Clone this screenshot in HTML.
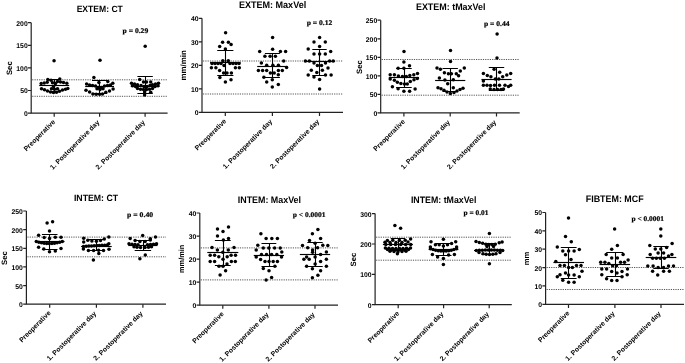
<!DOCTYPE html><html><head><meta charset="utf-8"><title>Figure</title><style>html,body{margin:0;padding:0;background:#fff;}svg{display:block;filter:blur(0.35px);text-rendering:geometricPrecision;}.t{font-family:"Liberation Sans",Arial,sans-serif;}.s{font-family:"Liberation Serif","Times New Roman",serif;}</style></head><body>
<svg width="685" height="363" viewBox="0 0 685 363">
<rect width="685" height="363" fill="#fff"/>
<g><line x1="32.2" y1="79.8" x2="167.6" y2="79.8" stroke="#555" stroke-width="1.0" stroke-dasharray="1.2 1.1"/><line x1="32.2" y1="96.3" x2="167.6" y2="96.3" stroke="#555" stroke-width="1.0" stroke-dasharray="1.2 1.1"/><path d="M31.2 22.7V113.1H167.6" fill="none" stroke="#222" stroke-width="1.2"/><path d="M28 113.1H31.2M28 90.5H31.2M28 67.9H31.2M28 45.3H31.2M28 22.7H31.2M54.2 113.1V116.7M99.6 113.1V116.7M145.1 113.1V116.7" fill="none" stroke="#222" stroke-width="1.2"/><text class="t" x="27.7" y="116.05" font-size="6.8" font-weight="bold" text-anchor="end">0</text><text class="t" x="27.7" y="93.45" font-size="6.8" font-weight="bold" text-anchor="end">50</text><text class="t" x="27.7" y="70.85" font-size="6.8" font-weight="bold" text-anchor="end">100</text><text class="t" x="27.7" y="48.25" font-size="6.8" font-weight="bold" text-anchor="end">150</text><text class="t" x="27.7" y="25.65" font-size="6.8" font-weight="bold" text-anchor="end">200</text><text class="t" x="99.75" y="12" font-size="9.04" font-weight="bold" text-anchor="middle" textLength="46.23" lengthAdjust="spacingAndGlyphs">EXTEM: CT</text><text class="t" transform="translate(11.6 68.2) rotate(-90)" font-size="7.75" font-weight="bold" text-anchor="middle">Sec</text><text class="s" x="122.5" y="33.1" font-size="7.1" font-weight="bold" stroke="#000" stroke-width="0.2" textLength="25.7" lengthAdjust="spacingAndGlyphs">p = 0.29</text><text class="t" transform="translate(55.7 122.3) rotate(-45)" font-size="6.85" font-weight="bold" text-anchor="end">Preoperative</text><text class="t" transform="translate(99.9 122.9) rotate(-45)" font-size="6.85" font-weight="bold" text-anchor="end">1. Postoperative day</text><text class="t" transform="translate(145.4 122.9) rotate(-45)" font-size="6.85" font-weight="bold" text-anchor="end">2. Postoperative day</text><g fill="#000"><circle cx="54.06" cy="60.76" r="1.75"/><circle cx="47.8" cy="79.6" r="1.75"/><circle cx="51" cy="80.2" r="1.75"/><circle cx="59.8" cy="78.9" r="1.75"/><circle cx="41.2" cy="83.4" r="1.75"/><circle cx="44.2" cy="82.9" r="1.75"/><circle cx="47.2" cy="82.3" r="1.75"/><circle cx="57.5" cy="81.5" r="1.75"/><circle cx="60.5" cy="82" r="1.75"/><circle cx="63.5" cy="82.6" r="1.75"/><circle cx="66.8" cy="83.3" r="1.75"/><circle cx="52.5" cy="82.8" r="1.75"/><circle cx="55.5" cy="83.5" r="1.75"/><circle cx="53.5" cy="86.5" r="1.75"/><circle cx="51.5" cy="88.8" r="1.75"/><circle cx="54.5" cy="89.2" r="1.75"/><circle cx="57.5" cy="88.8" r="1.75"/><circle cx="41.5" cy="88.8" r="1.75"/><circle cx="44.5" cy="89.8" r="1.75"/><circle cx="47.5" cy="91" r="1.75"/><circle cx="50.5" cy="92.1" r="1.75"/><circle cx="53.5" cy="92.5" r="1.75"/><circle cx="56.5" cy="92.2" r="1.75"/><circle cx="59.5" cy="91.3" r="1.75"/><circle cx="62.5" cy="90.1" r="1.75"/><circle cx="65.5" cy="89.2" r="1.75"/><circle cx="67.8" cy="88.6" r="1.75"/></g><path d="M39.2 85.5H69.2" stroke="#000" stroke-width="1.15"/><path d="M48 79.5H60.4M48 91.5H60.4M54.5 79.5V91.5" stroke="#000" stroke-width="1.1" fill="none"/><g fill="#000"><circle cx="100" cy="60.2" r="1.75"/><circle cx="93.9" cy="77.6" r="1.75"/><circle cx="107.8" cy="81.6" r="1.75"/><circle cx="98.9" cy="82.5" r="1.75"/><circle cx="86.6" cy="83.9" r="1.75"/><circle cx="112.8" cy="83.3" r="1.75"/><circle cx="89.5" cy="85" r="1.75"/><circle cx="92.5" cy="85.5" r="1.75"/><circle cx="95.5" cy="86" r="1.75"/><circle cx="98.5" cy="87.5" r="1.75"/><circle cx="101.5" cy="87.5" r="1.75"/><circle cx="104.5" cy="86" r="1.75"/><circle cx="107.5" cy="85.5" r="1.75"/><circle cx="110.5" cy="85" r="1.75"/><circle cx="97" cy="88.8" r="1.75"/><circle cx="100" cy="89.5" r="1.75"/><circle cx="103" cy="88.8" r="1.75"/><circle cx="86" cy="90.2" r="1.75"/><circle cx="89.6" cy="91.9" r="1.75"/><circle cx="92.9" cy="93.9" r="1.75"/><circle cx="96.2" cy="94.2" r="1.75"/><circle cx="99.6" cy="94.2" r="1.75"/><circle cx="102.5" cy="94" r="1.75"/><circle cx="105.8" cy="92.2" r="1.75"/><circle cx="109.5" cy="91.1" r="1.75"/><circle cx="113.1" cy="89.1" r="1.75"/></g><path d="M85.2 86.5H114" stroke="#000" stroke-width="1.15"/><path d="M92 80.5H107.2M92 93.5H107.2M99.5 80.5V93.5" stroke="#000" stroke-width="1.1" fill="none"/><g fill="#000"><circle cx="145.2" cy="46.3" r="1.75"/><circle cx="139.7" cy="79.6" r="1.75"/><circle cx="143.5" cy="82" r="1.75"/><circle cx="146.5" cy="82" r="1.75"/><circle cx="150.7" cy="82" r="1.75"/><circle cx="131.5" cy="83.3" r="1.75"/><circle cx="134.5" cy="84" r="1.75"/><circle cx="137.5" cy="84.8" r="1.75"/><circle cx="152.5" cy="84.8" r="1.75"/><circle cx="155.5" cy="84" r="1.75"/><circle cx="158.5" cy="83.3" r="1.75"/><circle cx="132.5" cy="85.8" r="1.75"/><circle cx="135.5" cy="86.5" r="1.75"/><circle cx="155" cy="86.5" r="1.75"/><circle cx="158" cy="85.8" r="1.75"/><circle cx="141" cy="85.5" r="1.75"/><circle cx="144" cy="86.5" r="1.75"/><circle cx="147" cy="86.5" r="1.75"/><circle cx="150" cy="85.5" r="1.75"/><circle cx="137.5" cy="88.5" r="1.75"/><circle cx="140.5" cy="89.2" r="1.75"/><circle cx="143.5" cy="89.5" r="1.75"/><circle cx="146.5" cy="89.5" r="1.75"/><circle cx="149.5" cy="89.2" r="1.75"/><circle cx="152.5" cy="88.5" r="1.75"/><circle cx="144.6" cy="92" r="1.75"/><circle cx="150.7" cy="92.3" r="1.75"/><circle cx="144.6" cy="95" r="1.75"/></g><path d="M130.8 86.5H159.4" stroke="#000" stroke-width="1.15"/><path d="M137.4 76.5H152.8M137.4 93.5H152.8M145.5 76.5V93.5" stroke="#000" stroke-width="1.1" fill="none"/></g>
<g><line x1="203" y1="61" x2="343" y2="61" stroke="#555" stroke-width="1.0" stroke-dasharray="1.2 1.1"/><line x1="203" y1="94" x2="343" y2="94" stroke="#555" stroke-width="1.0" stroke-dasharray="1.2 1.1"/><path d="M202 18.3V112.3H343" fill="none" stroke="#222" stroke-width="1.2"/><path d="M198.8 112.3H202M198.8 88.8H202M198.8 65.3H202M198.8 41.8H202M198.8 18.3H202M225.3 112.3V115.9M272.4 112.3V115.9M319.5 112.3V115.9" fill="none" stroke="#222" stroke-width="1.2"/><text class="t" x="198.5" y="115.25" font-size="6.8" font-weight="bold" text-anchor="end">0</text><text class="t" x="198.5" y="91.75" font-size="6.8" font-weight="bold" text-anchor="end">10</text><text class="t" x="198.5" y="68.25" font-size="6.8" font-weight="bold" text-anchor="end">20</text><text class="t" x="198.5" y="44.75" font-size="6.8" font-weight="bold" text-anchor="end">30</text><text class="t" x="198.5" y="21.25" font-size="6.8" font-weight="bold" text-anchor="end">40</text><text class="t" x="272.55" y="8.2" font-size="9.58" font-weight="bold" text-anchor="middle" textLength="67.35" lengthAdjust="spacingAndGlyphs">EXTEM: MaxVel</text><text class="t" transform="translate(186.3 65.3) rotate(-90)" font-size="7.9" font-weight="bold" text-anchor="middle">mm/min</text><text class="s" x="306.7" y="24.5" font-size="7.1" font-weight="bold" stroke="#000" stroke-width="0.2" textLength="25.6" lengthAdjust="spacingAndGlyphs">p = 0.12</text><text class="t" transform="translate(226.8 121.5) rotate(-45)" font-size="6.85" font-weight="bold" text-anchor="end">Preoperative</text><text class="t" transform="translate(272.7 122.1) rotate(-45)" font-size="6.85" font-weight="bold" text-anchor="end">1. Postoperative day</text><text class="t" transform="translate(319.8 122.1) rotate(-45)" font-size="6.85" font-weight="bold" text-anchor="end">2. Postoperative day</text><g fill="#000"><circle cx="225.6" cy="32.8" r="1.75"/><circle cx="222.6" cy="42.2" r="1.75"/><circle cx="228.4" cy="42.2" r="1.75"/><circle cx="231.1" cy="44.5" r="1.75"/><circle cx="219.7" cy="46.6" r="1.75"/><circle cx="225.4" cy="49.1" r="1.75"/><circle cx="222.8" cy="60.8" r="1.75"/><circle cx="228.3" cy="60.8" r="1.75"/><circle cx="212" cy="63.4" r="1.75"/><circle cx="215" cy="63.6" r="1.75"/><circle cx="218" cy="63.6" r="1.75"/><circle cx="221" cy="63.4" r="1.75"/><circle cx="230" cy="63.4" r="1.75"/><circle cx="233" cy="63.6" r="1.75"/><circle cx="236" cy="63.6" r="1.75"/><circle cx="239" cy="63.4" r="1.75"/><circle cx="224" cy="65.5" r="1.75"/><circle cx="211.4" cy="67.8" r="1.75"/><circle cx="215.9" cy="67.8" r="1.75"/><circle cx="235.4" cy="67.8" r="1.75"/><circle cx="239.3" cy="67.8" r="1.75"/><circle cx="219.6" cy="70.5" r="1.75"/><circle cx="223.6" cy="73" r="1.75"/><circle cx="227" cy="73" r="1.75"/><circle cx="231.4" cy="73" r="1.75"/><circle cx="219.9" cy="77.6" r="1.75"/><circle cx="225.4" cy="82" r="1.75"/><circle cx="231" cy="79.8" r="1.75"/></g><path d="M210.05 62.5H240.55" stroke="#000" stroke-width="1.15"/><path d="M217.2 50.5H233.4M217.2 75.5H233.4M225.5 50.5V75.5" stroke="#000" stroke-width="1.1" fill="none"/><g fill="#000"><circle cx="272.6" cy="37.4" r="1.75"/><circle cx="272.6" cy="49.2" r="1.75"/><circle cx="259.7" cy="51.4" r="1.75"/><circle cx="280.4" cy="51.4" r="1.75"/><circle cx="285.6" cy="51.4" r="1.75"/><circle cx="264.9" cy="56.2" r="1.75"/><circle cx="270.1" cy="56.2" r="1.75"/><circle cx="275.4" cy="56.2" r="1.75"/><circle cx="283.7" cy="60.9" r="1.75"/><circle cx="261.4" cy="63.1" r="1.75"/><circle cx="266.7" cy="65.2" r="1.75"/><circle cx="272.9" cy="65.2" r="1.75"/><circle cx="278.4" cy="65.2" r="1.75"/><circle cx="286.6" cy="67.4" r="1.75"/><circle cx="258.4" cy="70.5" r="1.75"/><circle cx="262.6" cy="70.5" r="1.75"/><circle cx="266.7" cy="70.5" r="1.75"/><circle cx="278.4" cy="70.5" r="1.75"/><circle cx="282.3" cy="70.5" r="1.75"/><circle cx="270.4" cy="73" r="1.75"/><circle cx="274.2" cy="73" r="1.75"/><circle cx="278.3" cy="74.8" r="1.75"/><circle cx="263.9" cy="77.3" r="1.75"/><circle cx="272.3" cy="79.8" r="1.75"/><circle cx="266.7" cy="82" r="1.75"/><circle cx="278.3" cy="84.4" r="1.75"/><circle cx="272.3" cy="87" r="1.75"/></g><path d="M257.2 66.5H287.6" stroke="#000" stroke-width="1.15"/><path d="M264.9 53.5H279.9M264.9 77.5H279.9M272.5 53.5V77.5" stroke="#000" stroke-width="1.1" fill="none"/><g fill="#000"><circle cx="319.6" cy="37.4" r="1.75"/><circle cx="314" cy="42.1" r="1.75"/><circle cx="325.3" cy="42.1" r="1.75"/><circle cx="319.6" cy="46.5" r="1.75"/><circle cx="308.2" cy="49" r="1.75"/><circle cx="330.7" cy="51.4" r="1.75"/><circle cx="314" cy="53.9" r="1.75"/><circle cx="319.6" cy="53.9" r="1.75"/><circle cx="325.3" cy="53.9" r="1.75"/><circle cx="305.4" cy="61" r="1.75"/><circle cx="309.4" cy="61" r="1.75"/><circle cx="329.6" cy="61" r="1.75"/><circle cx="333.2" cy="61" r="1.75"/><circle cx="314" cy="63.1" r="1.75"/><circle cx="325.5" cy="63.1" r="1.75"/><circle cx="317.4" cy="65.6" r="1.75"/><circle cx="321.5" cy="65.6" r="1.75"/><circle cx="328" cy="68.1" r="1.75"/><circle cx="311.3" cy="70.2" r="1.75"/><circle cx="322.4" cy="70.3" r="1.75"/><circle cx="316.8" cy="72.4" r="1.75"/><circle cx="308.2" cy="75.1" r="1.75"/><circle cx="325.5" cy="75.1" r="1.75"/><circle cx="331.1" cy="75.1" r="1.75"/><circle cx="314" cy="77.1" r="1.75"/><circle cx="319.6" cy="79.6" r="1.75"/><circle cx="319.6" cy="89.1" r="1.75"/></g><path d="M304 61.5H335" stroke="#000" stroke-width="1.15"/><path d="M312.3 49.5H326.7M312.3 75.5H326.7M319.5 49.5V75.5" stroke="#000" stroke-width="1.1" fill="none"/></g>
<g><line x1="381.7" y1="59.5" x2="519.7" y2="59.5" stroke="#555" stroke-width="1.0" stroke-dasharray="1.2 1.1"/><line x1="381.7" y1="95.2" x2="519.7" y2="95.2" stroke="#555" stroke-width="1.0" stroke-dasharray="1.2 1.1"/><path d="M380.7 20.2V112.9H519.7" fill="none" stroke="#222" stroke-width="1.2"/><path d="M377.5 112.9H380.7M377.5 94.4H380.7M377.5 75.9H380.7M377.5 57.4H380.7M377.5 38.9H380.7M377.5 20.2H380.7M403.9 112.9V116.5M450.2 112.9V116.5M496.5 112.9V116.5" fill="none" stroke="#222" stroke-width="1.2"/><text class="t" x="377.2" y="115.85" font-size="6.8" font-weight="bold" text-anchor="end">0</text><text class="t" x="377.2" y="97.35" font-size="6.8" font-weight="bold" text-anchor="end">50</text><text class="t" x="377.2" y="78.85" font-size="6.8" font-weight="bold" text-anchor="end">100</text><text class="t" x="377.2" y="60.35" font-size="6.8" font-weight="bold" text-anchor="end">150</text><text class="t" x="377.2" y="41.85" font-size="6.8" font-weight="bold" text-anchor="end">200</text><text class="t" x="377.2" y="23.15" font-size="6.8" font-weight="bold" text-anchor="end">250</text><text class="t" x="450.7" y="9.9" font-size="9.47" font-weight="bold" text-anchor="middle" textLength="69.55" lengthAdjust="spacingAndGlyphs">EXTEM: tMaxVel</text><text class="t" transform="translate(361.5 67) rotate(-90)" font-size="7.75" font-weight="bold" text-anchor="middle">Sec</text><text class="s" x="484" y="26.4" font-size="7.1" font-weight="bold" stroke="#000" stroke-width="0.2" textLength="25.6" lengthAdjust="spacingAndGlyphs">p = 0.44</text><text class="t" transform="translate(405.4 122.1) rotate(-45)" font-size="6.85" font-weight="bold" text-anchor="end">Preoperative</text><text class="t" transform="translate(450.5 122.7) rotate(-45)" font-size="6.85" font-weight="bold" text-anchor="end">1. Postoperative day</text><text class="t" transform="translate(496.8 122.7) rotate(-45)" font-size="6.85" font-weight="bold" text-anchor="end">2. Postoperative day</text><g fill="#000"><circle cx="404" cy="51.6" r="1.75"/><circle cx="403.9" cy="62" r="1.75"/><circle cx="409.5" cy="65.7" r="1.75"/><circle cx="398.1" cy="68.2" r="1.75"/><circle cx="403.9" cy="68.2" r="1.75"/><circle cx="417.5" cy="73.4" r="1.75"/><circle cx="390.2" cy="74.7" r="1.75"/><circle cx="394.4" cy="74.7" r="1.75"/><circle cx="398.4" cy="76" r="1.75"/><circle cx="409.8" cy="75.5" r="1.75"/><circle cx="413.8" cy="74.7" r="1.75"/><circle cx="402.4" cy="76.5" r="1.75"/><circle cx="406.3" cy="76.5" r="1.75"/><circle cx="390.2" cy="79" r="1.75"/><circle cx="394.4" cy="80.3" r="1.75"/><circle cx="397.4" cy="82.3" r="1.75"/><circle cx="400.9" cy="83.6" r="1.75"/><circle cx="404.5" cy="84" r="1.75"/><circle cx="407.3" cy="84" r="1.75"/><circle cx="410.3" cy="81.6" r="1.75"/><circle cx="414" cy="79.8" r="1.75"/><circle cx="417.3" cy="78.6" r="1.75"/><circle cx="392.4" cy="86.8" r="1.75"/><circle cx="398.1" cy="88.8" r="1.75"/><circle cx="403.9" cy="91.2" r="1.75"/><circle cx="409.6" cy="91.2" r="1.75"/><circle cx="415.1" cy="89" r="1.75"/></g><path d="M388.8 77.5H419" stroke="#000" stroke-width="1.15"/><path d="M396.1 68.5H411.7M396.1 87.5H411.7M404.5 68.5V87.5" stroke="#000" stroke-width="1.1" fill="none"/><g fill="#000"><circle cx="450.5" cy="50.4" r="1.75"/><circle cx="450.5" cy="61.5" r="1.75"/><circle cx="437" cy="68" r="1.75"/><circle cx="440.4" cy="69.2" r="1.75"/><circle cx="464.3" cy="68" r="1.75"/><circle cx="460.3" cy="71.1" r="1.75"/><circle cx="444.4" cy="72.7" r="1.75"/><circle cx="448.4" cy="73.7" r="1.75"/><circle cx="451.4" cy="73.7" r="1.75"/><circle cx="456.3" cy="73.7" r="1.75"/><circle cx="458.6" cy="75.7" r="1.75"/><circle cx="439.4" cy="77.9" r="1.75"/><circle cx="444.9" cy="80.1" r="1.75"/><circle cx="453.3" cy="79.7" r="1.75"/><circle cx="447.7" cy="83.8" r="1.75"/><circle cx="453.3" cy="87.8" r="1.75"/><circle cx="438" cy="87.8" r="1.75"/><circle cx="441" cy="88.8" r="1.75"/><circle cx="444" cy="90.3" r="1.75"/><circle cx="447" cy="92" r="1.75"/><circle cx="450.4" cy="93.6" r="1.75"/><circle cx="454" cy="92.5" r="1.75"/><circle cx="457" cy="91" r="1.75"/><circle cx="460" cy="89.5" r="1.75"/><circle cx="463" cy="88.3" r="1.75"/></g><path d="M435.1 80.5H465.3" stroke="#000" stroke-width="1.15"/><path d="M442.5 68.5H457.9M442.5 91.5H457.9M450.5 68.5V91.5" stroke="#000" stroke-width="1.1" fill="none"/><g fill="#000"><circle cx="497.1" cy="34" r="1.75"/><circle cx="497" cy="58" r="1.75"/><circle cx="494.1" cy="69.2" r="1.75"/><circle cx="499.7" cy="72.3" r="1.75"/><circle cx="483.4" cy="73.4" r="1.75"/><circle cx="510.7" cy="73.4" r="1.75"/><circle cx="487.3" cy="75.6" r="1.75"/><circle cx="490.9" cy="76.7" r="1.75"/><circle cx="502.7" cy="76.7" r="1.75"/><circle cx="506.8" cy="74.9" r="1.75"/><circle cx="495.3" cy="78.9" r="1.75"/><circle cx="498.8" cy="78.9" r="1.75"/><circle cx="483.4" cy="81.1" r="1.75"/><circle cx="483.4" cy="85.2" r="1.75"/><circle cx="487" cy="85.2" r="1.75"/><circle cx="490.5" cy="85.5" r="1.75"/><circle cx="494.5" cy="85.2" r="1.75"/><circle cx="499.5" cy="85.2" r="1.75"/><circle cx="505" cy="85.2" r="1.75"/><circle cx="510.7" cy="85.2" r="1.75"/><circle cx="508.5" cy="86.6" r="1.75"/><circle cx="490.3" cy="89" r="1.75"/><circle cx="494" cy="89.5" r="1.75"/><circle cx="497.5" cy="89.5" r="1.75"/><circle cx="501" cy="89.5" r="1.75"/><circle cx="503.5" cy="89" r="1.75"/></g><path d="M481.4 79.5H511.6" stroke="#000" stroke-width="1.15"/><path d="M488.8 67.5H504.2M488.8 90.5H504.2M496.5 67.5V90.5" stroke="#000" stroke-width="1.1" fill="none"/></g>
<g><line x1="27.4" y1="237.1" x2="166" y2="237.1" stroke="#555" stroke-width="1.0" stroke-dasharray="1.2 1.1"/><line x1="27.4" y1="256.8" x2="166" y2="256.8" stroke="#555" stroke-width="1.0" stroke-dasharray="1.2 1.1"/><path d="M26.4 211V304.2H166" fill="none" stroke="#222" stroke-width="1.2"/><path d="M23.2 304.2H26.4M23.2 285.6H26.4M23.2 266.9H26.4M23.2 248.3H26.4M23.2 229.6H26.4M23.2 211H26.4M49.7 304.2V307.8M96.4 304.2V307.8M142.9 304.2V307.8" fill="none" stroke="#222" stroke-width="1.2"/><text class="t" x="22.9" y="307.15" font-size="6.8" font-weight="bold" text-anchor="end">0</text><text class="t" x="22.9" y="288.55" font-size="6.8" font-weight="bold" text-anchor="end">50</text><text class="t" x="22.9" y="269.85" font-size="6.8" font-weight="bold" text-anchor="end">100</text><text class="t" x="22.9" y="251.25" font-size="6.8" font-weight="bold" text-anchor="end">150</text><text class="t" x="22.9" y="232.55" font-size="6.8" font-weight="bold" text-anchor="end">200</text><text class="t" x="22.9" y="213.95" font-size="6.8" font-weight="bold" text-anchor="end">250</text><text class="t" x="96" y="200.8" font-size="9.2" font-weight="bold" text-anchor="middle" textLength="44.17" lengthAdjust="spacingAndGlyphs">INTEM: CT</text><text class="t" transform="translate(6.6 258.1) rotate(-90)" font-size="7.75" font-weight="bold" text-anchor="middle">Sec</text><text class="s" x="127.1" y="216.9" font-size="7.1" font-weight="bold" stroke="#000" stroke-width="0.2" textLength="26" lengthAdjust="spacingAndGlyphs">p = 0.40</text><text class="t" transform="translate(51.2 313.4) rotate(-45)" font-size="6.85" font-weight="bold" text-anchor="end">Preoperative</text><text class="t" transform="translate(96.7 314) rotate(-45)" font-size="6.85" font-weight="bold" text-anchor="end">1. Postoperative day</text><text class="t" transform="translate(143.2 314) rotate(-45)" font-size="6.85" font-weight="bold" text-anchor="end">2. Postoperative day</text><g fill="#000"><circle cx="47.1" cy="222.9" r="1.75"/><circle cx="52.6" cy="221.8" r="1.75"/><circle cx="49.5" cy="231.1" r="1.75"/><circle cx="38.6" cy="235.2" r="1.75"/><circle cx="44.2" cy="237.4" r="1.75"/><circle cx="55.3" cy="237.2" r="1.75"/><circle cx="61" cy="237.2" r="1.75"/><circle cx="49.5" cy="238.6" r="1.75"/><circle cx="36.3" cy="241.5" r="1.75"/><circle cx="38.9" cy="242.3" r="1.75"/><circle cx="41.5" cy="242.8" r="1.75"/><circle cx="44.1" cy="243.3" r="1.75"/><circle cx="46.7" cy="243.5" r="1.75"/><circle cx="49.3" cy="243.6" r="1.75"/><circle cx="51.9" cy="243.5" r="1.75"/><circle cx="54.5" cy="243.3" r="1.75"/><circle cx="57.1" cy="242.8" r="1.75"/><circle cx="59.7" cy="242.3" r="1.75"/><circle cx="62.3" cy="241.5" r="1.75"/><circle cx="38.6" cy="247.2" r="1.75"/><circle cx="43.8" cy="249" r="1.75"/><circle cx="49.5" cy="251.8" r="1.75"/><circle cx="55.3" cy="251.1" r="1.75"/><circle cx="61" cy="248.6" r="1.75"/></g><path d="M34.9 241.5H64.5" stroke="#000" stroke-width="1.15"/><path d="M41.9 234.5H57.5M41.9 249.5H57.5M49.5 234.5V249.5" stroke="#000" stroke-width="1.1" fill="none"/><g fill="#000"><circle cx="83.7" cy="238.2" r="1.75"/><circle cx="83.7" cy="242.1" r="1.75"/><circle cx="87.8" cy="240.3" r="1.75"/><circle cx="91.9" cy="241.1" r="1.75"/><circle cx="96.4" cy="241.2" r="1.75"/><circle cx="100.5" cy="240.4" r="1.75"/><circle cx="104.3" cy="239" r="1.75"/><circle cx="108.8" cy="237.1" r="1.75"/><circle cx="108.8" cy="243.7" r="1.75"/><circle cx="83.5" cy="246.4" r="1.75"/><circle cx="86.2" cy="246.2" r="1.75"/><circle cx="88.8" cy="246.1" r="1.75"/><circle cx="91.5" cy="245.9" r="1.75"/><circle cx="94.1" cy="245.8" r="1.75"/><circle cx="96.8" cy="245.6" r="1.75"/><circle cx="99.4" cy="245.5" r="1.75"/><circle cx="102" cy="245.3" r="1.75"/><circle cx="104.7" cy="245.2" r="1.75"/><circle cx="107.3" cy="245" r="1.75"/><circle cx="83.4" cy="248.9" r="1.75"/><circle cx="88.4" cy="250.4" r="1.75"/><circle cx="93.6" cy="250.4" r="1.75"/><circle cx="98.6" cy="250.3" r="1.75"/><circle cx="103.5" cy="250.4" r="1.75"/><circle cx="109" cy="249.2" r="1.75"/><circle cx="98.8" cy="253.6" r="1.75"/><circle cx="93.4" cy="259.9" r="1.75"/></g><path d="M81.1 246.5H111.7" stroke="#000" stroke-width="1.15"/><path d="M87.9 239.5H104.9M87.9 250.5H104.9M96.5 239.5V250.5" stroke="#000" stroke-width="1.1" fill="none"/><g fill="#000"><circle cx="142.7" cy="235.4" r="1.75"/><circle cx="130.2" cy="238.4" r="1.75"/><circle cx="155.5" cy="237.1" r="1.75"/><circle cx="150.3" cy="238.7" r="1.75"/><circle cx="135.1" cy="240.4" r="1.75"/><circle cx="139.9" cy="241.4" r="1.75"/><circle cx="145.1" cy="241.4" r="1.75"/><circle cx="150.3" cy="239.9" r="1.75"/><circle cx="129" cy="243.8" r="1.75"/><circle cx="132" cy="244.2" r="1.75"/><circle cx="135" cy="244.5" r="1.75"/><circle cx="138" cy="244.8" r="1.75"/><circle cx="147.5" cy="244.8" r="1.75"/><circle cx="150.5" cy="244.5" r="1.75"/><circle cx="153.5" cy="244.2" r="1.75"/><circle cx="156.5" cy="243.8" r="1.75"/><circle cx="134" cy="246.8" r="1.75"/><circle cx="137" cy="247.3" r="1.75"/><circle cx="140.5" cy="247.5" r="1.75"/><circle cx="145" cy="247.5" r="1.75"/><circle cx="148.5" cy="247.3" r="1.75"/><circle cx="151.5" cy="246.8" r="1.75"/><circle cx="145.3" cy="255" r="1.75"/><circle cx="139.9" cy="258.7" r="1.75"/></g><path d="M128.3 245.5H157.5" stroke="#000" stroke-width="1.15"/><path d="M134.7 240.5H151.1M134.7 250.5H151.1M143.5 240.5V250.5" stroke="#000" stroke-width="1.1" fill="none"/></g>
<g><line x1="200.8" y1="247.9" x2="338" y2="247.9" stroke="#555" stroke-width="1.0" stroke-dasharray="1.2 1.1"/><line x1="200.8" y1="279.9" x2="338" y2="279.9" stroke="#555" stroke-width="1.0" stroke-dasharray="1.2 1.1"/><path d="M199.8 213V305.2H338" fill="none" stroke="#222" stroke-width="1.2"/><path d="M196.6 305.2H199.8M196.6 282.2H199.8M196.6 259.1H199.8M196.6 236.1H199.8M196.6 213H199.8M222.8 305.2V308.8M268.9 305.2V308.8M315 305.2V308.8" fill="none" stroke="#222" stroke-width="1.2"/><text class="t" x="196.3" y="308.15" font-size="6.8" font-weight="bold" text-anchor="end">0</text><text class="t" x="196.3" y="285.15" font-size="6.8" font-weight="bold" text-anchor="end">10</text><text class="t" x="196.3" y="262.05" font-size="6.8" font-weight="bold" text-anchor="end">20</text><text class="t" x="196.3" y="239.05" font-size="6.8" font-weight="bold" text-anchor="end">30</text><text class="t" x="196.3" y="215.95" font-size="6.8" font-weight="bold" text-anchor="end">40</text><text class="t" x="269.4" y="202.5" font-size="9.42" font-weight="bold" text-anchor="middle" textLength="63.29" lengthAdjust="spacingAndGlyphs">INTEM: MaxVel</text><text class="t" transform="translate(184.4 258.8) rotate(-90)" font-size="7.4" font-weight="bold" text-anchor="middle">mm/min</text><text class="s" x="292.8" y="217.1" font-size="7.1" font-weight="bold" stroke="#000" stroke-width="0.2" textLength="32.8" lengthAdjust="spacingAndGlyphs">p &lt; 0.0001</text><text class="t" transform="translate(224.3 314.4) rotate(-45)" font-size="6.85" font-weight="bold" text-anchor="end">Preoperative</text><text class="t" transform="translate(269.2 315) rotate(-45)" font-size="6.85" font-weight="bold" text-anchor="end">1. Postoperative day</text><text class="t" transform="translate(315.3 315) rotate(-45)" font-size="6.85" font-weight="bold" text-anchor="end">2. Postoperative day</text><g fill="#000"><circle cx="228.5" cy="227" r="1.75"/><circle cx="217.5" cy="229" r="1.75"/><circle cx="223" cy="231.5" r="1.75"/><circle cx="217.5" cy="235.9" r="1.75"/><circle cx="228.5" cy="238.4" r="1.75"/><circle cx="223.4" cy="240.1" r="1.75"/><circle cx="212" cy="247.4" r="1.75"/><circle cx="234" cy="247.4" r="1.75"/><circle cx="217.4" cy="250" r="1.75"/><circle cx="228.3" cy="250" r="1.75"/><circle cx="222.8" cy="252.2" r="1.75"/><circle cx="210.2" cy="255.2" r="1.75"/><circle cx="214.6" cy="255.2" r="1.75"/><circle cx="231.1" cy="255.2" r="1.75"/><circle cx="235.5" cy="255.2" r="1.75"/><circle cx="218.8" cy="256.8" r="1.75"/><circle cx="227.2" cy="256.8" r="1.75"/><circle cx="223" cy="259.2" r="1.75"/><circle cx="210.2" cy="261.6" r="1.75"/><circle cx="214.6" cy="261.6" r="1.75"/><circle cx="231.4" cy="261.6" r="1.75"/><circle cx="235.3" cy="261.6" r="1.75"/><circle cx="227" cy="264" r="1.75"/><circle cx="219" cy="266.2" r="1.75"/><circle cx="223" cy="266.2" r="1.75"/><circle cx="225.6" cy="270.8" r="1.75"/><circle cx="220.1" cy="275" r="1.75"/></g><path d="M207.3 252.5H238.3" stroke="#000" stroke-width="1.15"/><path d="M214.9 240.5H230.7M214.9 265.5H230.7M223.5 240.5V265.5" stroke="#000" stroke-width="1.1" fill="none"/><g fill="#000"><circle cx="260.9" cy="233.8" r="1.75"/><circle cx="266.1" cy="238.6" r="1.75"/><circle cx="271.8" cy="238.6" r="1.75"/><circle cx="277.4" cy="238.6" r="1.75"/><circle cx="257.8" cy="245.2" r="1.75"/><circle cx="263.3" cy="247.9" r="1.75"/><circle cx="268.8" cy="247.9" r="1.75"/><circle cx="274.6" cy="247.9" r="1.75"/><circle cx="280.2" cy="247.9" r="1.75"/><circle cx="256.2" cy="250.1" r="1.75"/><circle cx="281.8" cy="252" r="1.75"/><circle cx="261.5" cy="254.6" r="1.75"/><circle cx="266.5" cy="254.6" r="1.75"/><circle cx="271.6" cy="254.6" r="1.75"/><circle cx="276.8" cy="254.6" r="1.75"/><circle cx="256.2" cy="257.1" r="1.75"/><circle cx="281.5" cy="257.1" r="1.75"/><circle cx="260.6" cy="259.4" r="1.75"/><circle cx="265" cy="261.5" r="1.75"/><circle cx="269" cy="261.5" r="1.75"/><circle cx="273.2" cy="261.5" r="1.75"/><circle cx="277.4" cy="261.5" r="1.75"/><circle cx="274.9" cy="266.3" r="1.75"/><circle cx="263.3" cy="268.5" r="1.75"/><circle cx="269" cy="270.7" r="1.75"/><circle cx="271.6" cy="277.5" r="1.75"/><circle cx="266.1" cy="280" r="1.75"/></g><path d="M253.75 255.5H284.05" stroke="#000" stroke-width="1.15"/><path d="M261.5 243.5H276.3M261.5 266.5H276.3M269.5 243.5V266.5" stroke="#000" stroke-width="1.1" fill="none"/><g fill="#000"><circle cx="317.9" cy="229.4" r="1.75"/><circle cx="312.4" cy="233.8" r="1.75"/><circle cx="320.6" cy="238.4" r="1.75"/><circle cx="309.5" cy="240.4" r="1.75"/><circle cx="315.1" cy="243.2" r="1.75"/><circle cx="302.5" cy="245.4" r="1.75"/><circle cx="322.8" cy="245.2" r="1.75"/><circle cx="327.8" cy="245.4" r="1.75"/><circle cx="307.7" cy="247.8" r="1.75"/><circle cx="317.6" cy="247.8" r="1.75"/><circle cx="312.6" cy="250.1" r="1.75"/><circle cx="312.6" cy="252.3" r="1.75"/><circle cx="326.4" cy="252.1" r="1.75"/><circle cx="320.6" cy="254.5" r="1.75"/><circle cx="306.6" cy="257" r="1.75"/><circle cx="315.1" cy="257" r="1.75"/><circle cx="303.9" cy="259.3" r="1.75"/><circle cx="309.2" cy="259.3" r="1.75"/><circle cx="326.4" cy="259.3" r="1.75"/><circle cx="320.6" cy="261.5" r="1.75"/><circle cx="315.1" cy="264.1" r="1.75"/><circle cx="306.6" cy="266.3" r="1.75"/><circle cx="326.4" cy="266.3" r="1.75"/><circle cx="312.4" cy="268.7" r="1.75"/><circle cx="320.6" cy="270.7" r="1.75"/><circle cx="317.9" cy="275.3" r="1.75"/><circle cx="312.4" cy="277.8" r="1.75"/></g><path d="M299.85 254.5H330.15" stroke="#000" stroke-width="1.15"/><path d="M307.3 242.5H322.7M307.3 266.5H322.7M315.5 242.5V266.5" stroke="#000" stroke-width="1.1" fill="none"/></g>
<g><line x1="376.1" y1="237.2" x2="511.8" y2="237.2" stroke="#555" stroke-width="1.0" stroke-dasharray="1.2 1.1"/><line x1="376.1" y1="260.2" x2="511.8" y2="260.2" stroke="#555" stroke-width="1.0" stroke-dasharray="1.2 1.1"/><path d="M375.1 213.6V304.7H511.8" fill="none" stroke="#222" stroke-width="1.2"/><path d="M371.9 304.7H375.1M371.9 274.3H375.1M371.9 244H375.1M371.9 213.6H375.1M398.2 304.7V308.3M443.6 304.7V308.3M489.2 304.7V308.3" fill="none" stroke="#222" stroke-width="1.2"/><text class="t" x="371.6" y="307.65" font-size="6.8" font-weight="bold" text-anchor="end">0</text><text class="t" x="371.6" y="277.25" font-size="6.8" font-weight="bold" text-anchor="end">100</text><text class="t" x="371.6" y="246.95" font-size="6.8" font-weight="bold" text-anchor="end">200</text><text class="t" x="371.6" y="216.55" font-size="6.8" font-weight="bold" text-anchor="end">300</text><text class="t" x="443.65" y="203.3" font-size="9.31" font-weight="bold" text-anchor="middle" textLength="65.48" lengthAdjust="spacingAndGlyphs">INTEM: tMaxVel</text><text class="t" transform="translate(356.2 259.6) rotate(-90)" font-size="7.75" font-weight="bold" text-anchor="middle">Sec</text><text class="s" x="463.5" y="215.4" font-size="7.1" font-weight="bold" stroke="#000" stroke-width="0.2" textLength="24.9" lengthAdjust="spacingAndGlyphs">p = 0.01</text><text class="t" transform="translate(399.7 313.9) rotate(-45)" font-size="6.85" font-weight="bold" text-anchor="end">Preoperative</text><text class="t" transform="translate(443.9 314.5) rotate(-45)" font-size="6.85" font-weight="bold" text-anchor="end">1. Postoperative day</text><text class="t" transform="translate(489.5 314.5) rotate(-45)" font-size="6.85" font-weight="bold" text-anchor="end">2. Postoperative day</text><g fill="#000"><circle cx="394.9" cy="225.4" r="1.75"/><circle cx="400.6" cy="228.2" r="1.75"/><circle cx="387.4" cy="240.5" r="1.75"/><circle cx="392.8" cy="240.3" r="1.75"/><circle cx="399.4" cy="240.3" r="1.75"/><circle cx="405.2" cy="240.3" r="1.75"/><circle cx="410.6" cy="239" r="1.75"/><circle cx="385" cy="242.3" r="1.75"/><circle cx="390" cy="242.5" r="1.75"/><circle cx="396" cy="242.5" r="1.75"/><circle cx="402" cy="242.5" r="1.75"/><circle cx="408" cy="242" r="1.75"/><circle cx="385.8" cy="244.6" r="1.75"/><circle cx="390.7" cy="244.6" r="1.75"/><circle cx="395.5" cy="244.6" r="1.75"/><circle cx="400.7" cy="244.6" r="1.75"/><circle cx="405.6" cy="244.6" r="1.75"/><circle cx="410.7" cy="244.4" r="1.75"/><circle cx="385.4" cy="248" r="1.75"/><circle cx="389" cy="248.3" r="1.75"/><circle cx="392.5" cy="248.5" r="1.75"/><circle cx="396" cy="248.6" r="1.75"/><circle cx="399.5" cy="248.6" r="1.75"/><circle cx="403" cy="248.5" r="1.75"/><circle cx="406.5" cy="248.3" r="1.75"/><circle cx="410.5" cy="248" r="1.75"/><circle cx="387.5" cy="249.6" r="1.75"/><circle cx="391" cy="249.9" r="1.75"/><circle cx="394.5" cy="250.1" r="1.75"/><circle cx="398" cy="250.2" r="1.75"/><circle cx="401.5" cy="250.1" r="1.75"/><circle cx="405" cy="249.9" r="1.75"/><circle cx="408.5" cy="249.6" r="1.75"/><circle cx="390" cy="251.2" r="1.75"/><circle cx="394" cy="251.6" r="1.75"/><circle cx="398" cy="251.8" r="1.75"/><circle cx="402" cy="251.6" r="1.75"/><circle cx="406" cy="251.2" r="1.75"/><circle cx="397.4" cy="253.8" r="1.75"/></g><path d="M382.9 244.5H412.9" stroke="#000" stroke-width="1.15"/><path d="M390.7 238.5H405.1M390.7 250.5H405.1M398.5 238.5V250.5" stroke="#000" stroke-width="1.1" fill="none"/><g fill="#000"><circle cx="443.4" cy="239.2" r="1.75"/><circle cx="431" cy="241.7" r="1.75"/><circle cx="455.7" cy="241.7" r="1.75"/><circle cx="435.4" cy="244.7" r="1.75"/><circle cx="439.2" cy="244.7" r="1.75"/><circle cx="443.4" cy="246" r="1.75"/><circle cx="447.5" cy="244.7" r="1.75"/><circle cx="451.6" cy="243.5" r="1.75"/><circle cx="430.4" cy="246.9" r="1.75"/><circle cx="456.6" cy="246.9" r="1.75"/><circle cx="430.5" cy="248.8" r="1.75"/><circle cx="433.1" cy="249.6" r="1.75"/><circle cx="435.7" cy="250.3" r="1.75"/><circle cx="438.3" cy="250.7" r="1.75"/><circle cx="440.9" cy="251" r="1.75"/><circle cx="443.5" cy="251.1" r="1.75"/><circle cx="446.1" cy="251" r="1.75"/><circle cx="448.7" cy="250.7" r="1.75"/><circle cx="451.3" cy="250.3" r="1.75"/><circle cx="453.9" cy="249.6" r="1.75"/><circle cx="456.5" cy="248.8" r="1.75"/><circle cx="432.4" cy="254.6" r="1.75"/><circle cx="454.4" cy="254.6" r="1.75"/><circle cx="437.6" cy="257.1" r="1.75"/><circle cx="448.6" cy="255.1" r="1.75"/><circle cx="443.4" cy="258.4" r="1.75"/><circle cx="443.4" cy="264.5" r="1.75"/></g><path d="M428.65 249.5H458.35" stroke="#000" stroke-width="1.15"/><path d="M435.5 243.5H451.5M435.5 255.5H451.5M443.5 243.5V255.5" stroke="#000" stroke-width="1.1" fill="none"/><g fill="#000"><circle cx="489.4" cy="233.6" r="1.75"/><circle cx="476" cy="241.6" r="1.75"/><circle cx="479.3" cy="242.5" r="1.75"/><circle cx="482.6" cy="243.3" r="1.75"/><circle cx="485.9" cy="244.3" r="1.75"/><circle cx="488.8" cy="244.6" r="1.75"/><circle cx="491.9" cy="244.6" r="1.75"/><circle cx="495.2" cy="244.3" r="1.75"/><circle cx="499.2" cy="242.8" r="1.75"/><circle cx="502.1" cy="242" r="1.75"/><circle cx="487" cy="246.4" r="1.75"/><circle cx="493.5" cy="246.4" r="1.75"/><circle cx="476.4" cy="250.4" r="1.75"/><circle cx="479.4" cy="250.3" r="1.75"/><circle cx="482.4" cy="250.2" r="1.75"/><circle cx="485.4" cy="250.1" r="1.75"/><circle cx="488.4" cy="250.1" r="1.75"/><circle cx="491.4" cy="250.1" r="1.75"/><circle cx="494.4" cy="250.1" r="1.75"/><circle cx="497.4" cy="250.2" r="1.75"/><circle cx="500.4" cy="250.3" r="1.75"/><circle cx="502.7" cy="250.4" r="1.75"/><circle cx="479" cy="252.5" r="1.75"/><circle cx="500" cy="252.5" r="1.75"/><circle cx="483" cy="253.8" r="1.75"/><circle cx="486.2" cy="254.3" r="1.75"/><circle cx="489.5" cy="254.4" r="1.75"/><circle cx="492.8" cy="254.3" r="1.75"/><circle cx="496" cy="253.8" r="1.75"/><circle cx="489.4" cy="263.8" r="1.75"/></g><path d="M474 250.5H504" stroke="#000" stroke-width="1.15"/><path d="M481.5 243.5H496.5M481.5 254.5H496.5M489.5 243.5V254.5" stroke="#000" stroke-width="1.1" fill="none"/></g>
<g><line x1="546.6" y1="267.5" x2="684" y2="267.5" stroke="#555" stroke-width="1.0" stroke-dasharray="1.2 1.1"/><line x1="546.6" y1="289.5" x2="684" y2="289.5" stroke="#555" stroke-width="1.0" stroke-dasharray="1.2 1.1"/><path d="M545.6 212.5V304.3H684" fill="none" stroke="#222" stroke-width="1.2"/><path d="M542.4 304.3H545.6M542.4 285.9H545.6M542.4 267.6H545.6M542.4 249.2H545.6M542.4 230.9H545.6M542.4 212.5H545.6M568.5 304.3V307.9M614.9 304.3V307.9M661 304.3V307.9" fill="none" stroke="#222" stroke-width="1.2"/><text class="t" x="542.1" y="307.25" font-size="6.8" font-weight="bold" text-anchor="end">0</text><text class="t" x="542.1" y="288.85" font-size="6.8" font-weight="bold" text-anchor="end">10</text><text class="t" x="542.1" y="270.55" font-size="6.8" font-weight="bold" text-anchor="end">20</text><text class="t" x="542.1" y="252.15" font-size="6.8" font-weight="bold" text-anchor="end">30</text><text class="t" x="542.1" y="233.85" font-size="6.8" font-weight="bold" text-anchor="end">40</text><text class="t" x="542.1" y="215.45" font-size="6.8" font-weight="bold" text-anchor="end">50</text><text class="t" x="614.7" y="201.9" font-size="9.42" font-weight="bold" text-anchor="middle" textLength="57.88" lengthAdjust="spacingAndGlyphs">FIBTEM: MCF</text><text class="t" transform="translate(529.4 258.5) rotate(-90)" font-size="7.6" font-weight="bold" text-anchor="middle">mm</text><text class="s" x="631.5" y="221.1" font-size="7.1" font-weight="bold" stroke="#000" stroke-width="0.2" textLength="32.4" lengthAdjust="spacingAndGlyphs">p &lt; 0.0001</text><text class="t" transform="translate(570 313.5) rotate(-45)" font-size="6.85" font-weight="bold" text-anchor="end">Preoperative</text><text class="t" transform="translate(615.2 314.1) rotate(-45)" font-size="6.85" font-weight="bold" text-anchor="end">1. Postoperative day</text><text class="t" transform="translate(661.3 314.1) rotate(-45)" font-size="6.85" font-weight="bold" text-anchor="end">2. Postoperative day</text><g fill="#000"><circle cx="568.5" cy="218" r="1.75"/><circle cx="565.5" cy="236.4" r="1.75"/><circle cx="571.3" cy="241.7" r="1.75"/><circle cx="557.3" cy="247" r="1.75"/><circle cx="579.3" cy="249.5" r="1.75"/><circle cx="562.8" cy="251" r="1.75"/><circle cx="568.6" cy="251" r="1.75"/><circle cx="574.1" cy="251" r="1.75"/><circle cx="565.5" cy="254.7" r="1.75"/><circle cx="571" cy="259.6" r="1.75"/><circle cx="555.8" cy="261.6" r="1.75"/><circle cx="560" cy="265.6" r="1.75"/><circle cx="564.4" cy="265.6" r="1.75"/><circle cx="576.5" cy="265.6" r="1.75"/><circle cx="581" cy="265.6" r="1.75"/><circle cx="568.6" cy="267.4" r="1.75"/><circle cx="572.4" cy="267.4" r="1.75"/><circle cx="582" cy="271.2" r="1.75"/><circle cx="565.5" cy="273.1" r="1.75"/><circle cx="560" cy="274.8" r="1.75"/><circle cx="557.3" cy="276.7" r="1.75"/><circle cx="568.6" cy="275.1" r="1.75"/><circle cx="574.1" cy="275.1" r="1.75"/><circle cx="579.3" cy="276.7" r="1.75"/><circle cx="562.8" cy="280.3" r="1.75"/><circle cx="568.6" cy="282.2" r="1.75"/><circle cx="574.1" cy="282.2" r="1.75"/></g><path d="M553.4 262.5H584" stroke="#000" stroke-width="1.15"/><path d="M560.8 247.5H576.6M560.8 278.5H576.6M568.5 247.5V278.5" stroke="#000" stroke-width="1.1" fill="none"/><g fill="#000"><circle cx="614.6" cy="228.9" r="1.75"/><circle cx="617.4" cy="245.4" r="1.75"/><circle cx="611.7" cy="249.2" r="1.75"/><circle cx="606.2" cy="254.5" r="1.75"/><circle cx="623.1" cy="254.5" r="1.75"/><circle cx="611.7" cy="258.1" r="1.75"/><circle cx="617.4" cy="258.1" r="1.75"/><circle cx="628.1" cy="260" r="1.75"/><circle cx="600.7" cy="262.2" r="1.75"/><circle cx="604.9" cy="262.2" r="1.75"/><circle cx="620.6" cy="262.2" r="1.75"/><circle cx="624.5" cy="262.2" r="1.75"/><circle cx="608.8" cy="263.6" r="1.75"/><circle cx="612.6" cy="265.8" r="1.75"/><circle cx="616.5" cy="265.8" r="1.75"/><circle cx="601.8" cy="269.1" r="1.75"/><circle cx="606.6" cy="269.1" r="1.75"/><circle cx="627.5" cy="269.1" r="1.75"/><circle cx="611.7" cy="271.5" r="1.75"/><circle cx="622" cy="271.5" r="1.75"/><circle cx="617" cy="273" r="1.75"/><circle cx="601.8" cy="274.8" r="1.75"/><circle cx="627.2" cy="274.8" r="1.75"/><circle cx="622" cy="276.8" r="1.75"/><circle cx="606.6" cy="278.7" r="1.75"/><circle cx="611.7" cy="280.6" r="1.75"/><circle cx="617" cy="280.6" r="1.75"/></g><path d="M599.5 264.5H630.1" stroke="#000" stroke-width="1.15"/><path d="M606.3 252.5H623.3M606.3 276.5H623.3M615.5 252.5V276.5" stroke="#000" stroke-width="1.1" fill="none"/><g fill="#000"><circle cx="660.8" cy="228.9" r="1.75"/><circle cx="660.8" cy="236.1" r="1.75"/><circle cx="649.8" cy="245.4" r="1.75"/><circle cx="672.1" cy="243.5" r="1.75"/><circle cx="666.6" cy="247.6" r="1.75"/><circle cx="655.3" cy="249" r="1.75"/><circle cx="660.8" cy="249" r="1.75"/><circle cx="658.1" cy="252.9" r="1.75"/><circle cx="663.6" cy="252.9" r="1.75"/><circle cx="650.2" cy="254.5" r="1.75"/><circle cx="671.9" cy="254.5" r="1.75"/><circle cx="668.5" cy="256.1" r="1.75"/><circle cx="652.6" cy="258.3" r="1.75"/><circle cx="656.4" cy="258.3" r="1.75"/><circle cx="660.3" cy="258.3" r="1.75"/><circle cx="664.4" cy="258.3" r="1.75"/><circle cx="647.8" cy="266" r="1.75"/><circle cx="653.1" cy="266" r="1.75"/><circle cx="668.5" cy="266" r="1.75"/><circle cx="673.5" cy="266" r="1.75"/><circle cx="658.1" cy="267.4" r="1.75"/><circle cx="663.6" cy="267.4" r="1.75"/><circle cx="652.6" cy="271.2" r="1.75"/><circle cx="663.6" cy="271.2" r="1.75"/><circle cx="669.4" cy="271.2" r="1.75"/><circle cx="657.7" cy="275.1" r="1.75"/></g><path d="M645.7 257.5H676.3" stroke="#000" stroke-width="1.15"/><path d="M653.3 246.5H668.7M653.3 268.5H668.7M661.5 246.5V268.5" stroke="#000" stroke-width="1.1" fill="none"/></g>
</svg></body></html>
